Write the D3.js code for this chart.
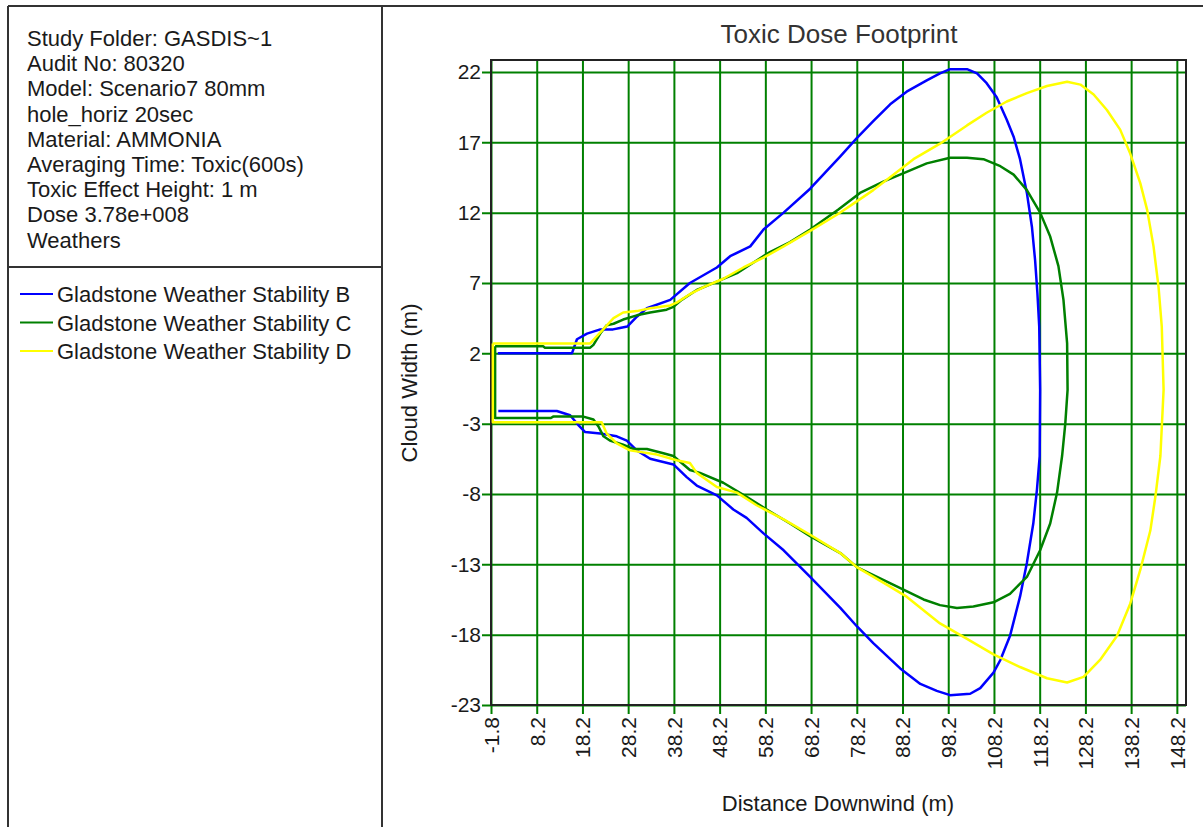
<!DOCTYPE html>
<html>
<head>
<meta charset="utf-8">
<script src="https://cdn.jsdelivr.net/npm/d3@7"></script>
<style>
  body { margin: 0; background: #fff; }
  svg { display: block; font-family: Arial, "Liberation Sans", sans-serif; }
</style>
</head>
<body>
<div class="canva"></div>
<script>
// info panel text
const infoLines = [
  "Study Folder: GASDIS~1",
  "Audit No: 80320",
  "Model: Scenario7 80mm",
  "hole_horiz 20sec",
  "Material: AMMONIA",
  "Averaging Time: Toxic(600s)",
  "Toxic Effect Height: 1 m",
  "Dose 3.78e+008",
  "Weathers"
];

const seriesNames = [
  "Gladstone Weather Stability B",
  "Gladstone Weather Stability C",
  "Gladstone Weather Stability D"
];
const seriesColors = ["#0000ff", "#008000", "#ffff00"];

const xTicks = [-1.8, 8.2, 18.2, 28.2, 38.2, 48.2, 58.2, 68.2, 78.2, 88.2, 98.2, 108.2, 118.2, 128.2, 138.2, 148.2];
const yTicks = [22, 17, 12, 7, 2, -3, -8, -13, -18, -23];

// Stability B (open footprint)
const xB = [-0.3, 15.9, 17.0, 19.2, 22.1, 24.9, 26.4, 28.0, 30.1, 32.3, 37.4, 41.7, 47.6, 50.5, 54.9, 57.8, 62.2, 68.0, 74.6, 78.2,
  81.8, 85.5, 89.1, 93.5, 96.4, 98.6, 102.3, 104.5, 106.6, 108.8, 111.0, 112.5, 113.9, 115.4, 116.5, 117.2, 117.7, 118.1, 118.3,
  118.2, 117.6, 116.8, 115.4, 113.9, 111.7, 109.6, 108.1, 105.2, 103.0, 98.6, 95.7, 92.1, 87.7, 81.8, 78.2, 74.6, 68.0, 62.2,
  57.8, 54.1, 51.2, 47.6, 43.2, 41.0, 38.1, 33.0, 30.1, 27.9, 25.7, 22.1, 18.8, 17.3, 15.5, 12.6, -0.2];
const yB = [2.0, 2.0, 3.0, 3.4, 3.7, 3.7, 3.8, 3.9, 4.6, 5.2, 5.8, 7.0, 8.1, 8.9, 9.6, 10.8, 12.0, 13.7, 16.0, 17.3,
  18.5, 19.7, 20.6, 21.4, 21.9, 22.2, 22.2, 21.9, 21.2, 20.2, 18.6, 17.4, 15.8, 13.4, 11.0, 8.6, 6.3, 3.9, -0.6,
  -5.3, -7.7, -10.1, -12.9, -15.3, -18.1, -19.8, -20.7, -21.8, -22.2, -22.3, -22.0, -21.5, -20.4, -18.6, -17.4, -16.1, -13.9, -12.0,
  -10.8, -9.7, -9.1, -8.1, -7.4, -6.8, -5.9, -5.5, -4.9, -4.2, -3.9, -3.7, -3.6, -3.1, -2.4, -2.1, -2.1];

// Stability C
const xC = [-0.9, 9.6, 10.0, 19.9, 20.6, 22.1, 23.5, 25.0, 27.1, 30.1, 33.0, 36.6, 38.1, 39.9, 43.2, 47.6, 52.0, 56.3, 59.2, 63.6,
  68.0, 74.1, 78.9, 84.0, 89.1, 93.5, 98.6, 102.3, 105.9, 109.6, 112.5, 115.4, 118.3, 120.5, 122.3, 123.4, 124.2, 124.3,
  123.8, 123.1, 122.0, 120.5, 118.3, 115.4, 111.7, 108.1, 103.7, 100.1, 96.4, 92.8, 88.4, 83.3, 78.2, 74.6, 68.0, 63.6,
  58.5, 54.1, 49.0, 43.9, 41.7, 38.1, 35.9, 32.3, 29.3, 27.1, 24.2, 22.8, 21.7, 20.6, 18.4, 11.8, 11.3, -0.9, -0.9];
const yC = [2.5, 2.5, 2.4, 2.4, 2.6, 3.4, 4.0, 4.1, 4.4, 4.7, 4.9, 5.1, 5.3, 5.8, 6.5, 7.1, 7.7, 8.6, 9.2, 9.9,
  10.8, 12.2, 13.4, 14.2, 14.9, 15.5, 15.9, 15.9, 15.8, 15.3, 14.7, 13.6, 12.0, 10.3, 8.2, 5.8, 2.7, -0.6,
  -3.0, -5.3, -7.9, -10.1, -12.0, -13.9, -15.1, -15.7, -16.0, -16.1, -15.9, -15.5, -14.8, -14.0, -13.2, -12.2, -11.0, -10.1,
  -9.1, -8.2, -7.2, -6.5, -6.3, -5.3, -5.1, -4.8, -4.8, -4.5, -4.2, -3.9, -3.2, -2.7, -2.5, -2.5, -2.6, -2.6, 2.5];

// Stability D
const xD = [-1.4, 19.9, 25.0, 27.1, 30.1, 33.0, 37.4, 38.8, 41.7, 44.7, 49.0, 53.4, 57.8, 62.2, 68.0, 74.1, 78.2, 81.8, 86.2, 90.6,
  96.4, 102.3, 106.6, 111.0, 115.4, 119.8, 124.2, 127.1, 130.0, 132.9, 135.8, 138.0, 140.2, 141.7, 143.1, 144.2, 144.9, 145.3,
  144.6, 143.5, 142.4, 140.2, 138.0, 135.1, 131.4, 127.8, 124.2, 119.8, 113.9, 108.1, 102.3, 96.4, 89.1, 84.0, 78.2, 74.6,
  68.0, 62.2, 56.3, 52.0, 47.6, 43.2, 41.7, 38.8, 34.5, 28.6, 25.7, 23.5, 22.4, -1.4, -1.4];
const yD = [2.7, 2.7, 4.5, 4.9, 5.0, 5.2, 5.4, 5.6, 6.2, 6.7, 7.3, 8.1, 8.8, 9.6, 10.7, 11.9, 12.8, 13.6, 14.7, 15.8,
  16.9, 18.2, 19.1, 19.9, 20.5, 21.0, 21.3, 21.1, 20.4, 19.3, 17.9, 16.2, 14.1, 12.2, 9.6, 6.7, 3.9, -0.6,
  -5.3, -8.2, -10.6, -13.4, -15.8, -18.1, -19.8, -21.0, -21.4, -21.1, -20.3, -19.4, -18.3, -17.2, -15.3, -14.3, -13.2, -12.2,
  -10.9, -9.8, -8.8, -7.9, -7.5, -6.5, -5.8, -5.6, -5.2, -4.9, -4.4, -3.7, -2.9, -2.9, 2.7];

const series = [d3.zip(xB, yB), d3.zip(xC, yC), d3.zip(xD, yD)];

const svg = d3.select(".canva").append("svg")
    .attr("width", 1203)
    .attr("height", 827);

svg.append("rect").attr("width", 1203).attr("height", 827).attr("fill", "#fff");

// frame: top rule + left panel
const frame = svg.append("g")
    .attr("fill", "none")
    .attr("stroke", "#333")
    .attr("stroke-width", 2);
frame.append("line").attr("x1", 8).attr("x2", 1203).attr("y1", 6).attr("y2", 6);
frame.append("line").attr("x1", 8).attr("x2", 8).attr("y1", 6).attr("y2", 827);
frame.append("line").attr("x1", 382).attr("x2", 382).attr("y1", 6).attr("y2", 827);
frame.append("line").attr("x1", 8).attr("x2", 382).attr("y1", 267).attr("y2", 267);

svg.append("g").selectAll("text")
    .data(infoLines)
    .join("text")
    .attr("x", 27)
    .attr("y", (d, i) => 46 + i * 25.2)
    .attr("font-size", 22)
    .attr("fill", "#1a1a1a")
    .text(d => d);

// legend
const legend = svg.append("g").selectAll("g")
    .data(seriesNames)
    .join("g")
    .attr("transform", (d, i) => `translate(20, ${294 + i * 28.5})`);
legend.append("line")
    .attr("x1", 0).attr("x2", 33)
    .attr("stroke", (d, i) => seriesColors[i])
    .attr("stroke-width", 2);
legend.append("text")
    .attr("x", 37)
    .attr("y", 8)
    .attr("font-size", 22)
    .attr("fill", "#1a1a1a")
    .text(d => d);

// plot
const plot = {left: 491, right: 1186, top: 60, bottom: 705};
const x = d3.scaleLinear().domain([-1.8, 150.2]).range([plot.left, plot.right]);
const y = d3.scaleLinear().domain([-23, 22.85]).range([plot.bottom, plot.top]);

const gridColor = "#008000";
// plain hyphen instead of unicode minus
const fmtX = d => d.toFixed(1);
const fmtY = d => String(d);

// grid + outside ticks (y)
const yAxis = svg.append("g")
    .attr("transform", `translate(${plot.left},0)`)
    .call(d3.axisLeft(y).tickValues(yTicks).tickFormat(fmtY).tickSizeInner(-(plot.right - plot.left)).tickSizeOuter(0));
yAxis.select(".domain").remove();
yAxis.selectAll(".tick line")
    .attr("x1", -9)
    .attr("stroke", gridColor)
    .attr("stroke-width", 2);
yAxis.selectAll(".tick text")
    .attr("x", -10)
    .attr("font-size", 21)
    .attr("font-family", "Arial, 'Liberation Sans', sans-serif")
    .attr("fill", "#1a1a1a");

const xAxis = svg.append("g")
    .attr("transform", `translate(0,${plot.bottom})`)
    .call(d3.axisBottom(x).tickValues(xTicks).tickFormat(fmtX).tickSizeInner(-(plot.bottom - plot.top)).tickSizeOuter(0));
xAxis.select(".domain").remove();
xAxis.selectAll(".tick line")
    .attr("y1", 9)
    .attr("stroke", gridColor)
    .attr("stroke-width", 2);
xAxis.selectAll(".tick text")
    .attr("transform", "rotate(-90)")
    .attr("x", -12)
    .attr("y", 0)
    .attr("dy", "0.35em")
    .attr("text-anchor", "end")
    .attr("font-size", 21)
    .attr("font-family", "Arial, 'Liberation Sans', sans-serif")
    .attr("fill", "#1a1a1a");

// plot border
svg.append("rect")
    .attr("x", plot.left)
    .attr("y", plot.top)
    .attr("width", plot.right - plot.left)
    .attr("height", plot.bottom - plot.top)
    .attr("fill", "none")
    .attr("stroke", "#222")
    .attr("stroke-width", 2);

// footprints
const line = d3.line().x(d => x(d[0])).y(d => y(d[1]));
svg.append("g").selectAll("path")
    .data(series)
    .join("path")
    .attr("d", line)
    .attr("fill", "none")
    .attr("stroke", (d, i) => seriesColors[i])
    .attr("stroke-width", 2.5)
    .attr("stroke-linejoin", "round");

// titles
svg.append("text")
    .attr("x", 839)
    .attr("y", 43)
    .attr("text-anchor", "middle")
    .attr("font-size", 26)
    .attr("fill", "#333")
    .text("Toxic Dose Footprint");

svg.append("text")
    .attr("x", 838)
    .attr("y", 811)
    .attr("text-anchor", "middle")
    .attr("font-size", 22)
    .attr("fill", "#1a1a1a")
    .text("Distance Downwind (m)");

svg.append("text")
    .attr("transform", "translate(417,383) rotate(-90)")
    .attr("text-anchor", "middle")
    .attr("font-size", 22)
    .attr("fill", "#1a1a1a")
    .text("Cloud Width (m)");
</script>
</body>
</html>
